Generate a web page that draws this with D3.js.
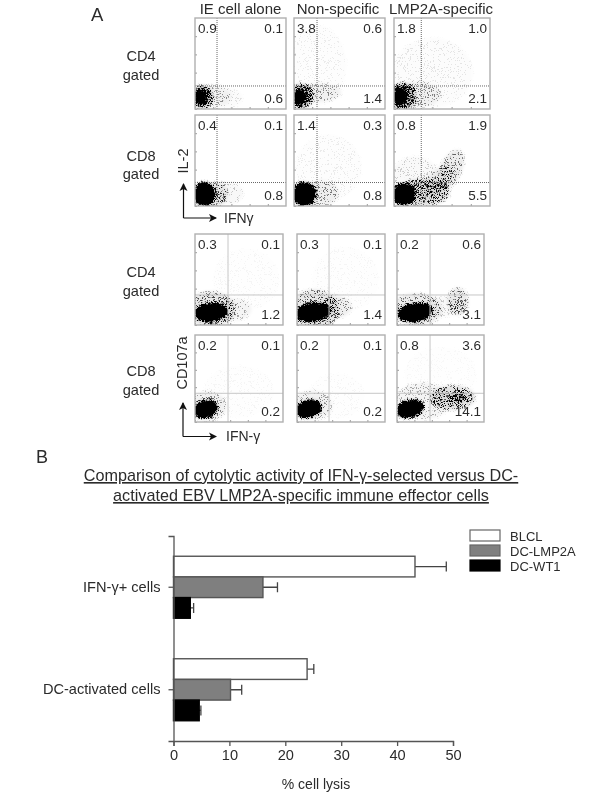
<!DOCTYPE html>
<html>
<head>
<meta charset="utf-8">
<script src="https://cdnjs.cloudflare.com/ajax/libs/d3/7.8.5/d3.min.js"></script>
<style>
body { margin: 0; background: #fff; }
svg { display: block; filter: blur(0.4px); }
text { font-family: "Liberation Sans", Arial, sans-serif; fill: #2b2b2b; }
</style>
</head>
<body>
<div id="chart"></div>
<script>
// panel A: quadrant percentages, one row per gated population
const columnTitles = ["IE cell alone", "Non-specific", "LMP2A-specific"];
const rowLabels = ["CD4", "CD8", "CD4", "CD8"];
const upperLeft = [["0.9", "3.8", "1.8"], ["0.4", "1.4", "0.8"], ["0.3", "0.3", "0.2"], ["0.2", "0.2", "0.8"]];
const upperRight = [["0.1", "0.6", "1.0"], ["0.1", "0.3", "1.9"], ["0.1", "0.1", "0.6"], ["0.1", "0.1", "3.6"]];
const lowerRight = [["0.6", "1.4", "2.1"], ["0.8", "0.8", "5.5"], ["1.2", "1.4", "3.1"], ["0.2", "0.2", "14.1"]];

// event clouds, on a 0-100 axis:
// [centre x, centre y, spread x, spread y, density, tilt]
const il2Cd4Alone = [[6, 13, 7, 9, .8, 0], [8, 13, 12, 13, .45, 0], [20, 14, 20, 12, .1, 0], [38, 12, 14, 10, .04, 0]];
const il2Cd4Non = [[6, 13, 7, 9, .85, 0], [8, 14, 13, 14, .45, 0], [26, 18, 26, 10, .12, 0], [25, 48, 32, 44, .025, 0]];
const il2Cd4Lmp = [[6, 14, 8, 10, .85, 0], [9, 14, 14, 15, .45, 0], [24, 16, 25, 14, .12, 0], [40, 40, 42, 38, .03, 0]];
const il2Cd8Alone = [[10, 13, 12, 13, 1, 0], [22, 13, 14, 14, .2, 0], [36, 14, 17, 12, .07, 0]];
const il2Cd8Non = [[11, 13, 13, 13, 1, 0], [30, 14, 19, 14, .14, 0], [38, 42, 36, 36, .022, 0]];
const il2Cd8Lmp = [[10, 13, 12, 12, 1, 0], [30, 15, 28, 15, .3, 0], [22, 30, 26, 24, .06, 0], [47, 28, 18, 12, .14, -45], [59, 40, 22, 12, .18, -65]];
const cd107Cd4Alone = [[18, 14, 19, 10, 1, -5], [18, 17, 28, 20, .22, 0], [44, 17, 20, 12, .1, 0], [58, 50, 38, 34, .01, 0]];
const cd107Cd4Non = [[18, 14, 20, 10, 1, -6], [20, 17, 28, 22, .22, 0], [44, 20, 18, 12, .15, 0], [55, 50, 38, 36, .012, 0]];
const cd107Cd4Lmp = [[21, 14, 20, 10, 1, -8], [22, 17, 30, 18, .18, 0], [70, 26, 12, 15, .2, 0], [50, 20, 26, 11, .06, 0]];
const cd107Cd8Alone = [[12, 15, 14, 10, 1, -15], [14, 18, 22, 17, .13, 0], [50, 35, 40, 30, .012, 0]];
const cd107Cd8Non = [[13, 15, 15, 10, 1, -15], [17, 19, 23, 17, .12, 0], [45, 30, 32, 26, .012, 0]];
const cd107Cd8Lmp = [[15, 15, 16, 10, 1, -15], [64, 28, 26, 14, .28, 0], [70, 28, 10, 5, .45, 0], [30, 24, 32, 21, .1, 0], [50, 55, 42, 32, .008, 0]];
const panelClouds = [
  [il2Cd4Alone, il2Cd4Non, il2Cd4Lmp],
  [il2Cd8Alone, il2Cd8Non, il2Cd8Lmp],
  [cd107Cd4Alone, cd107Cd4Non, cd107Cd4Lmp],
  [cd107Cd8Alone, cd107Cd8Non, cd107Cd8Lmp]
];
const gateX = [[24.2, 25.3, 28.4], [24.2, 25.3, 28.4], [37.5, 36.4, 38], [37.5, 36.4, 38]];
const gateY = [25.3, 25.8, 33, 33];
const scatterTicks = [0, 20, 40, 60, 80];

// panel B
const categories = ["IFN-\u03b3+ cells", "DC-activated cells"];
const seriesNames = ["BLCL", "DC-LMP2A", "DC-WT1"];
const blcl = [43.2, 23.9];
const blclErr = [48.8, 25.1];
const dcLmp2a = [16.0, 10.2];
const dcLmp2aErr = [18.6, 12.2];
const dcWt1 = [3.0, 4.6];
const dcWt1Err = [3.6, 4.9];
const lysisTicks = [0, 10, 20, 30, 40, 50];
const seriesColors = ["#ffffff", "#7f7f7f", "#000000"];

const svg = d3.select("#chart").append("svg").attr("width", 600).attr("height", 800);

// grain: turns the smooth cloud density into speckled events, over a faint wash of the density
const filter = svg.append("defs").append("filter")
  .attr("id", "events")
  .attr("x", "-30%").attr("y", "-30%").attr("width", "160%").attr("height", "160%")
  .attr("color-interpolation-filters", "sRGB");
filter.append("feGaussianBlur").attr("in", "SourceAlpha").attr("stdDeviation", 1.8).attr("result", "density");
filter.append("feTurbulence").attr("type", "fractalNoise").attr("baseFrequency", 2.3)
  .attr("numOctaves", 1).attr("seed", 7).attr("result", "noise");
filter.append("feColorMatrix").attr("in", "noise").attr("type", "matrix")
  .attr("values", "0 0 0 0 0  0 0 0 0 0  0 0 0 0 0  0 0 0 3.5 -1.25")
  .attr("result", "grain");
filter.append("feComposite").attr("in", "density").attr("in2", "grain").attr("operator", "arithmetic")
  .attr("k1", 0).attr("k2", 3).attr("k3", 2).attr("k4", -2).attr("result", "speckle");
filter.append("feGaussianBlur").attr("in", "speckle").attr("stdDeviation", 0.55).attr("result", "soft");
filter.append("feComposite").attr("in", "soft").attr("in2", "density").attr("operator", "arithmetic")
  .attr("k1", 0).attr("k2", 1).attr("k3", 0.4).attr("k4", 0);

const panelLefts = [[195, 294, 394], [195, 294, 394], [195, 297, 397], [195, 297, 397]];
const panelRights = [[286, 385, 490], [286, 385, 490], [283, 385, 484], [283, 385, 484]];
const panelTops = [18, 115, 234, 335];
const panelBottoms = [109, 206, 325, 422];

panelClouds.forEach((row, r) => {
  row.forEach((clouds, c) => {
    const x = d3.scaleLinear().domain([0, 100]).range([panelLefts[r][c], panelRights[r][c]]);
    const y = d3.scaleLinear().domain([0, 100]).range([panelBottoms[r], panelTops[r]]);
    const clipId = "clip" + r + c;
    svg.append("clipPath").attr("id", clipId).append("rect")
      .attr("x", x(0)).attr("y", y(100)).attr("width", x(100) - x(0)).attr("height", y(0) - y(100));

    svg.append("g").attr("clip-path", "url(#" + clipId + ")")
      .append("g").attr("filter", "url(#events)")
      .selectAll("ellipse").data(clouds).enter().append("ellipse")
      .attr("cx", d => x(d[0]))
      .attr("cy", d => y(d[1]))
      .attr("rx", d => x(d[2]) - x(0))
      .attr("ry", d => y(0) - y(d[3]))
      .attr("fill-opacity", d => d[4])
      .attr("transform", d => "rotate(" + d[5] + " " + x(d[0]) + " " + y(d[1]) + ")");

    // quadrant gates
    const gate = svg.append("g").attr("fill", "none")
      .attr("stroke", r < 2 ? "#666" : "#c6c6c6")
      .attr("stroke-width", 1)
      .attr("stroke-dasharray", r < 2 ? "1,1" : null);
    gate.append("line").attr("x1", x(gateX[r][c])).attr("x2", x(gateX[r][c])).attr("y1", y(0)).attr("y2", y(100));
    gate.append("line").attr("x1", x(0)).attr("x2", x(100)).attr("y1", y(gateY[r])).attr("y2", y(gateY[r]));

    // tick marks just inside the frame
    const bottomAxis = svg.append("g").attr("transform", "translate(0," + y(0) + ")")
      .call(d3.axisTop(x).tickValues(scatterTicks).tickSize(2).tickFormat(""));
    const leftAxis = svg.append("g").attr("transform", "translate(" + x(0) + ",0)")
      .call(d3.axisRight(y).tickValues(scatterTicks).tickSize(2).tickFormat(""));
    [bottomAxis, leftAxis].forEach(a => {
      a.selectAll("path").remove();
      a.selectAll("line").attr("stroke", "#999");
    });

    svg.append("rect")
      .attr("x", x(0)).attr("y", y(100))
      .attr("width", x(100) - x(0)).attr("height", y(0) - y(100))
      .attr("fill", "none").attr("stroke", "#b0b0b0").attr("stroke-width", 1.4);

    svg.append("text").attr("x", x(0) + 3).attr("y", y(100) + 15)
      .attr("font-size", 13.5).text(upperLeft[r][c]);
    svg.append("text").attr("x", x(100) - 3).attr("y", y(100) + 15)
      .attr("text-anchor", "end").attr("font-size", 13.5).text(upperRight[r][c]);
    svg.append("text").attr("x", x(100) - 3).attr("y", y(0) - 6)
      .attr("text-anchor", "end").attr("font-size", 13.5).text(lowerRight[r][c]);
  });
});

const titleCentres = [240.5, 338, 441];
columnTitles.forEach((t, i) => {
  svg.append("text").attr("x", titleCentres[i]).attr("y", 14)
    .attr("text-anchor", "middle").attr("font-size", 15).text(t);
});

const rowLabelBase = [61, 160.5, 277, 376];
rowLabels.forEach((t, i) => {
  svg.append("text").attr("x", 141).attr("y", rowLabelBase[i])
    .attr("text-anchor", "middle").attr("font-size", 14.6).text(t);
  svg.append("text").attr("x", 141).attr("y", rowLabelBase[i] + 18.5)
    .attr("text-anchor", "middle").attr("font-size", 14.6).text("gated");
});

svg.append("text").attr("x", 91).attr("y", 21).attr("font-size", 18.5).text("A");
svg.append("text").attr("x", 36).attr("y", 463).attr("font-size", 18).text("B");

// axis arrows beside the lower panel of each block
const marker = svg.select("defs").append("marker")
  .attr("id", "arrow").attr("markerWidth", 10).attr("markerHeight", 10)
  .attr("refX", 7).attr("refY", 5).attr("orient", "auto").attr("markerUnits", "userSpaceOnUse");
marker.append("path").attr("d", "M0,1L8,5L0,9L2,5Z").attr("fill", "#111");

function arrows(xPos, yTop, yBottom, xEnd) {
  svg.append("path")
    .attr("d", "M" + xPos + "," + yBottom + "V" + yTop)
    .attr("fill", "none").attr("stroke", "#111").attr("stroke-width", 1.2).attr("marker-end", "url(#arrow)");
  svg.append("path")
    .attr("d", "M" + xPos + "," + yBottom + "H" + xEnd)
    .attr("fill", "none").attr("stroke", "#111").attr("stroke-width", 1.2).attr("marker-end", "url(#arrow)");
}
arrows(183.5, 184, 218, 216);
arrows(183, 403, 436.5, 216);

svg.append("text").attr("x", 224).attr("y", 223).attr("font-size", 14).text("IFN\u03b3");
svg.append("text").attr("x", 226).attr("y", 441).attr("font-size", 14).text("IFN-\u03b3");
svg.append("text").attr("transform", "translate(188,161) rotate(-90)")
  .attr("text-anchor", "middle").attr("font-size", 14.5).text("IL-2");
svg.append("text").attr("transform", "translate(187,363) rotate(-90)")
  .attr("text-anchor", "middle").attr("font-size", 14.5).text("CD107a");

// panel B title
svg.append("text").attr("x", 301).attr("y", 481).attr("text-anchor", "middle")
  .attr("font-size", 16.2).attr("text-decoration", "underline")
  .text("Comparison of cytolytic activity of IFN-\u03b3-selected versus DC-");
svg.append("text").attr("x", 301).attr("y", 501).attr("text-anchor", "middle")
  .attr("font-size", 16.2).attr("text-decoration", "underline")
  .text("activated EBV LMP2A-specific immune effector cells");

// panel B bars
const xLysis = d3.scaleLinear().domain([0, 50]).range([173.5, 453]);
const yGroup = d3.scaleBand().domain(categories).range([536, 741]);
const yInner = d3.scaleBand().domain(seriesNames).range([-31, 31]);

const seriesValues = [blcl, dcLmp2a, dcWt1];
const seriesErrors = [blclErr, dcLmp2aErr, dcWt1Err];

seriesNames.forEach((name, s) => {
  const g = svg.append("g");
  const yBar = cat => yGroup(cat) + yGroup.bandwidth() / 2 + yInner(name);
  g.selectAll(".err").data(categories).enter().append("path")
    .attr("class", "err")
    .attr("d", (cat, i) => {
      const mid = yBar(cat) + yInner.bandwidth() / 2;
      return "M" + xLysis(seriesValues[s][i]) + "," + mid + "H" + xLysis(seriesErrors[s][i]) +
        "M" + xLysis(seriesErrors[s][i]) + "," + (mid - 5) + "V" + (mid + 5);
    })
    .attr("fill", "none").attr("stroke", "#444").attr("stroke-width", 1.3);
  g.selectAll("rect").data(categories).enter().append("rect")
    .attr("x", xLysis(0))
    .attr("y", yBar)
    .attr("width", (cat, i) => xLysis(seriesValues[s][i]) - xLysis(0))
    .attr("height", yInner.bandwidth())
    .attr("fill", seriesColors[s])
    .attr("stroke", s === 2 ? "#000" : "#555")
    .attr("stroke-width", 1.4);
});

const xAxis = svg.append("g").attr("transform", "translate(0,741)")
  .call(d3.axisBottom(xLysis).tickValues(lysisTicks).tickSize(5).tickPadding(4));
const yAxis = svg.append("g").attr("transform", "translate(173.5,0)")
  .call(d3.axisLeft(yGroup).tickSize(5).tickPadding(8));
[xAxis, yAxis].forEach(a => {
  a.selectAll("path, line").attr("stroke", "#555").attr("stroke-width", 1.3);
  a.selectAll("text").attr("font-size", 14.6).attr("font-family", "Liberation Sans").attr("fill", "#2b2b2b");
});

svg.append("text").attr("x", 316).attr("y", 789).attr("text-anchor", "middle")
  .attr("font-size", 14).text("% cell lysis");

// legend
const legendY = d3.scaleBand().domain(seriesNames).range([529, 574]);
seriesNames.forEach((name, s) => {
  svg.append("rect")
    .attr("x", 470).attr("y", legendY(name) + 1)
    .attr("width", 30).attr("height", legendY.bandwidth() - 4)
    .attr("fill", seriesColors[s]).attr("stroke", s === 2 ? "#000" : "#666").attr("stroke-width", 1.2);
  svg.append("text").attr("x", 510).attr("y", legendY(name) + 12)
    .attr("font-size", 13).text(name);
});
</script>
</body>
</html>
